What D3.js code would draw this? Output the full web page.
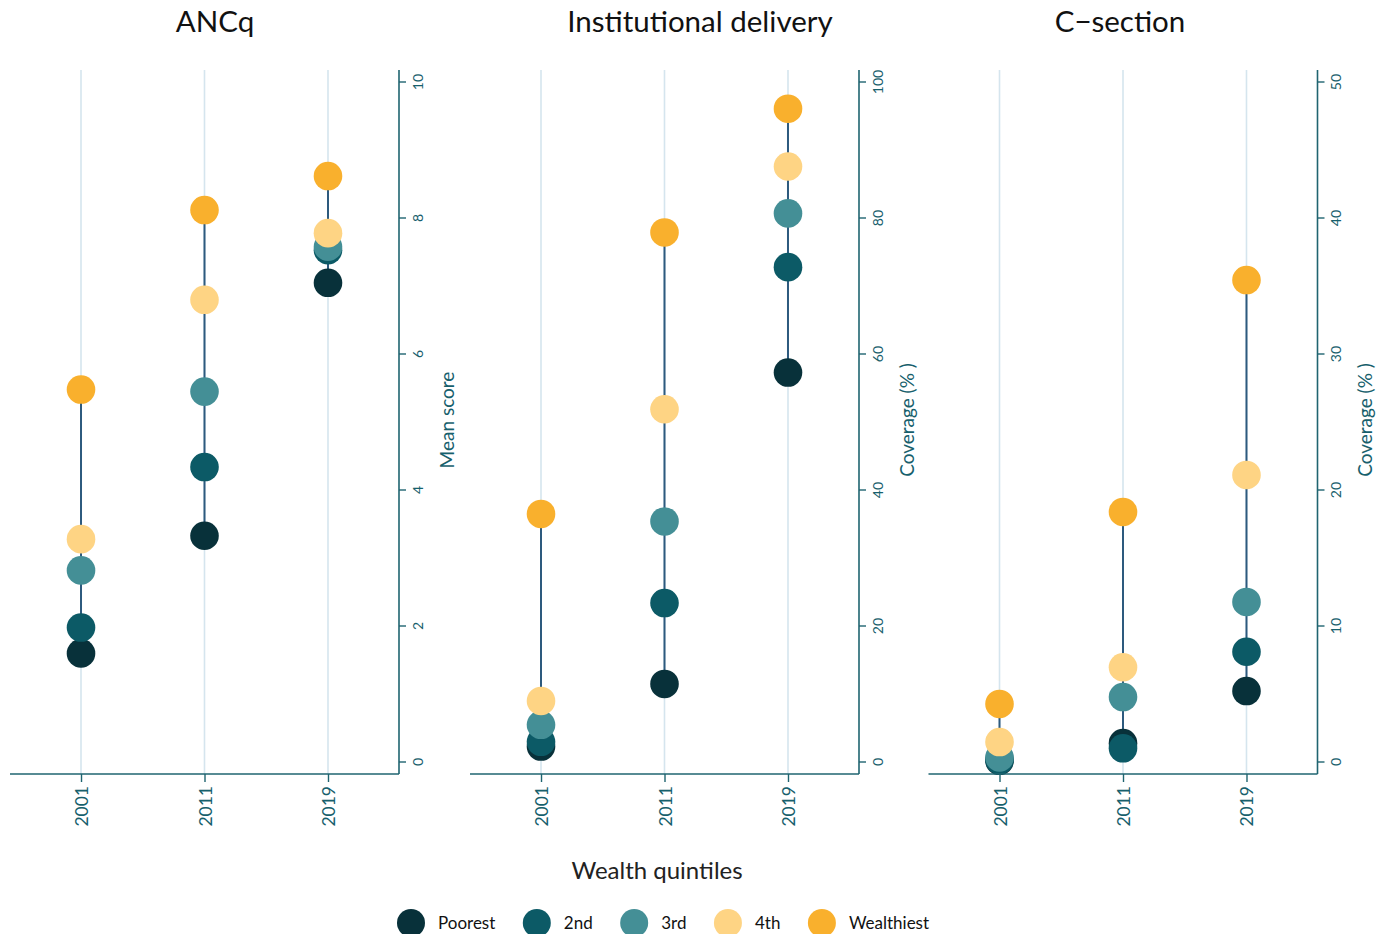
<!DOCTYPE html>
<html>
<head>
<meta charset="utf-8">
<script src="https://cdn.jsdelivr.net/npm/d3@7"></script>
<style>
  html, body { margin: 0; padding: 0; background: #fff; }
  svg { display: block; font-family: Lato, "Open Sans", sans-serif; }
</style>
</head>
<body>
<svg id="chart" width="1386" height="934"></svg>
<script>
// Survey rounds and wealth quintiles
const years = ["2001", "2011", "2019"];
const quintiles = ["Poorest", "2nd", "3rd", "4th", "Wealthiest"];
const quintileColors = ["#08313a", "#0c5a66", "#448f96", "#fed484", "#f9b02d"];

// ANC quality mean score, one row per quintile (2001, 2011, 2019)
const ancqValues = [
  [1.59, 3.32, 7.04],
  [1.97, 4.33, 7.52],
  [2.81, 5.44, 7.57],
  [3.27, 6.79, 7.77],
  [5.47, 8.11, 8.61]
];

// Institutional delivery coverage (%)
const deliveryValues = [
  [2.2, 11.4, 57.2],
  [2.9, 23.3, 72.7],
  [5.4, 35.3, 80.6],
  [8.9, 51.8, 87.5],
  [36.4, 77.8, 96.0]
];

// C-section coverage (%)
const csectionValues = [
  [0.05, 1.35, 5.18],
  [0.1, 0.97, 8.07],
  [0.3, 4.74, 11.73],
  [1.43, 6.93, 21.07],
  [4.23, 18.35, 35.4]
];

const panelTitles = ["ANCq", "Institutional delivery", "C\u2212section"];
const axisTitles = ["Mean score", "Coverage (% )", "Coverage (% )"];
const yMax = [10, 100, 50];
const yTicks = [[0, 2, 4, 6, 8, 10], [0, 20, 40, 60, 80, 100], [0, 10, 20, 30, 40, 50]];
const panelValues = [ancqValues, deliveryValues, csectionValues];

const svg = d3.select("#chart");
const axisColor = "#1f6470";
const textTeal = "#17606c";

const panelLeft = [10, 470, 928.5];
const panelWidth = 389;
const titleCenter = [215, 700, 1120];
const plotTop = 70, plotBottom = 774;
const zeroY = 761.5, maxY = 81.5;
const r = 14.3;

panelValues.forEach((vals, p) => {
  const x0 = panelLeft[p], x1 = x0 + panelWidth;
  const x = d3.scalePoint().domain(years).range([x0, x1]).padding(0.575);
  const y = d3.scaleLinear().domain([0, yMax[p]]).range([zeroY, maxY]);
  const g = svg.append("g");

  // vertical guide per survey year
  g.selectAll("line.grid").data(years).join("line")
    .attr("class", "grid")
    .attr("x1", d => x(d)).attr("x2", d => x(d))
    .attr("y1", plotTop).attr("y2", plotBottom)
    .attr("stroke", "#d5e5ee").attr("stroke-width", 1.6);

  // range line from lowest to highest quintile
  years.forEach((yr, i) => {
    const col = vals.map(row => row[i]);
    g.append("line")
      .attr("x1", x(yr)).attr("x2", x(yr))
      .attr("y1", y(d3.min(col))).attr("y2", y(d3.max(col)))
      .attr("stroke", "#2d5a7e").attr("stroke-width", 2);
  });

  // quintile markers, poorest first so wealthier sit on top
  vals.forEach((row, q) => {
    g.selectAll(null).data(row).join("circle")
      .attr("cx", (d, i) => x(years[i]))
      .attr("cy", d => y(d))
      .attr("r", r)
      .attr("fill", quintileColors[q]);
  });

  // axis lines
  g.append("line").attr("x1", x0).attr("x2", x1).attr("y1", plotBottom).attr("y2", plotBottom)
    .attr("stroke", axisColor).attr("stroke-width", 1.6);
  g.append("line").attr("x1", x1).attr("x2", x1).attr("y1", plotTop).attr("y2", plotBottom)
    .attr("stroke", axisColor).attr("stroke-width", 1.6);

  // bottom axis: survey years
  const xa = g.append("g").attr("transform", `translate(0,${plotBottom})`)
    .call(d3.axisBottom(x).tickSize(8).tickSizeOuter(0));
  xa.select(".domain").remove();
  xa.selectAll(".tick line").attr("stroke", axisColor).attr("stroke-width", 1.4);
  xa.selectAll(".tick text")
    .attr("x", 0).attr("y", 0).attr("dy", null)
    .attr("transform", "translate(0,12) rotate(-90)")
    .attr("text-anchor", "end")
    .attr("dominant-baseline", "central")
    .attr("font-size", 17.5)
    .attr("font-family", "Lato, sans-serif")
    .attr("fill", textTeal);

  // right axis: values
  const ya = g.append("g").attr("transform", `translate(${x1},0)`)
    .call(d3.axisRight(y).tickValues(yTicks[p]).tickSize(7).tickSizeOuter(0));
  ya.select(".domain").remove();
  ya.selectAll(".tick line").attr("stroke", axisColor).attr("stroke-width", 1.4);
  ya.selectAll(".tick text")
    .attr("x", 0).attr("y", 0).attr("dy", null)
    .attr("transform", "translate(18,0) rotate(-90)")
    .attr("text-anchor", "middle")
    .attr("dominant-baseline", "central")
    .attr("font-size", 14)
    .attr("font-family", "Lato, sans-serif")
    .attr("fill", textTeal);

  // axis title
  g.append("text")
    .attr("transform", `translate(${x1 + 47},420) rotate(-90)`)
    .attr("text-anchor", "middle")
    .attr("dominant-baseline", "central")
    .attr("font-size", 19)
    .attr("fill", textTeal)
    .text(axisTitles[p]);

  // panel title
  g.append("text")
    .attr("x", titleCenter[p]).attr("y", 32)
    .attr("text-anchor", "middle")
    .attr("font-size", 29.5)
    .attr("fill", "#111")
    .text(panelTitles[p]);
});

// shared x title
svg.append("text")
  .attr("x", 657).attr("y", 879)
  .attr("text-anchor", "middle")
  .attr("font-size", 24)
  .attr("fill", "#222")
  .text("Wealth quintiles");

// legend
const legend = svg.append("g");
let cx = 411;
quintiles.forEach((name, q) => {
  legend.append("circle").attr("cx", cx).attr("cy", 923).attr("r", 14).attr("fill", quintileColors[q]);
  const t = legend.append("text")
    .attr("x", cx + 27).attr("y", 929)
    .attr("font-size", 17)
    .attr("fill", "#111")
    .text(name);
  cx = cx + 27 + t.node().getComputedTextLength() + 41.5;
});
</script>
</body>
</html>
